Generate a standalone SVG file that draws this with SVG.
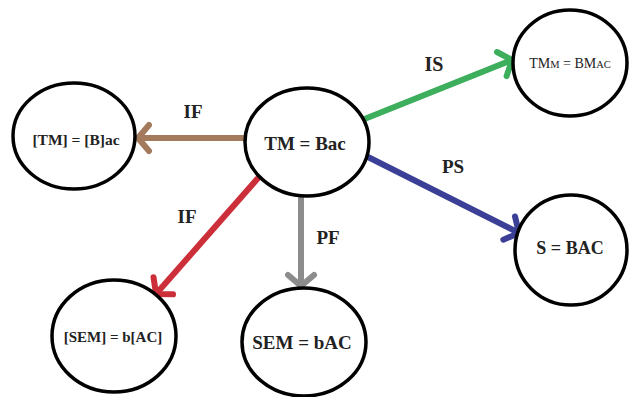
<svg xmlns="http://www.w3.org/2000/svg" width="629" height="397" viewBox="0 0 629 397">
<style>
.node ellipse{fill:#fff;stroke:#000;stroke-width:3.5}
text{font-family:'Liberation Serif','Times New Roman','DejaVu Serif',serif;font-weight:bold;fill:#222;text-anchor:middle}
.edge{fill:none;stroke-width:6}
.elbl{font-size:19px}
.head{fill:none;stroke-width:6;stroke-linecap:round;stroke-linejoin:round}
</style>
<defs>
<marker id="mBrown" markerUnits="userSpaceOnUse" markerWidth="40" markerHeight="40" viewBox="-20 -20 40 40" refX="0" refY="0" orient="auto" overflow="visible"><path class="head" stroke="#a47a5c" d="M-11,-13 L0,0 L-11,13"/></marker>
<marker id="mGreen" markerUnits="userSpaceOnUse" markerWidth="40" markerHeight="40" viewBox="-20 -20 40 40" refX="0" refY="0" orient="auto" overflow="visible"><path class="head" stroke="#3cae5c" d="M-11,-13 L0,0 L-11,13"/></marker>
<marker id="mBlue" markerUnits="userSpaceOnUse" markerWidth="40" markerHeight="40" viewBox="-20 -20 40 40" refX="0" refY="0" orient="auto" overflow="visible"><path class="head" stroke="#3b3f96" d="M-11,-13 L0,0 L-11,13"/></marker>
<marker id="mRed" markerUnits="userSpaceOnUse" markerWidth="40" markerHeight="40" viewBox="-20 -20 40 40" refX="0" refY="0" orient="auto" overflow="visible"><path class="head" stroke="#cc2f3a" d="M-11,-13 L0,0 L-11,13"/></marker>
<marker id="mGray" markerUnits="userSpaceOnUse" markerWidth="40" markerHeight="40" viewBox="-20 -20 40 40" refX="0" refY="0" orient="auto" overflow="visible"><path class="head" stroke="#8c8c8c" d="M-11,-13 L0,0 L-11,13"/></marker>
</defs>
<rect width="629" height="397" fill="#fff"/>
<g id="connectors">
<line class="edge" stroke="#a47a5c" x1="246" y1="138" x2="138" y2="138" marker-end="url(#mBrown)"/>
<line class="edge" stroke="#3cae5c" x1="362" y1="120" x2="512" y2="60" marker-end="url(#mGreen)"/>
<line class="edge" stroke="#3b3f96" x1="366" y1="156" x2="519" y2="233" marker-end="url(#mBlue)"/>
<line class="edge" stroke="#cc2f3a" x1="259" y1="177" x2="156" y2="294" marker-end="url(#mRed)"/>
<line class="edge" stroke="#8c8c8c" x1="301" y1="196" x2="301" y2="286" marker-end="url(#mGray)"/>
<text class="elbl" x="193" y="118">IF</text>
<text class="elbl" x="434" y="71" style="font-size:20px">IS</text>
<text class="elbl" x="453" y="173">PS</text>
<text class="elbl" x="187" y="223">IF</text>
<text class="elbl" x="328" y="244">PF</text>
</g>
<g id="n-center" class="node">
<ellipse cx="307" cy="142" rx="62" ry="54"/>
<text x="305" y="149.5" font-size="19">TM = Bac</text>
</g>
<g id="n-tmb" class="node">
<ellipse cx="74" cy="136" rx="61" ry="53"/>
<text x="76" y="145" font-size="15.5">[TM] = [B]ac</text>
</g>
<g id="n-tmm" class="node">
<ellipse cx="570" cy="63" rx="57" ry="53"/>
<text x="570" y="68" font-size="14" style="font-weight:normal">TM<tspan font-size="10.5">M</tspan> = BM<tspan font-size="10.5">AC</tspan></text>
</g>
<g id="n-s" class="node">
<ellipse cx="571" cy="250" rx="56" ry="55"/>
<text x="570" y="254" font-size="18">S = BAC</text>
</g>
<g id="n-semb" class="node">
<ellipse cx="114" cy="336" rx="62" ry="56"/>
<text x="113" y="342" font-size="15">[SEM] = b[AC]</text>
</g>
<g id="n-sem" class="node">
<ellipse cx="304" cy="342" rx="62" ry="54"/>
<text x="302" y="348.5" font-size="19">SEM = bAC</text>
</g>
</svg>
